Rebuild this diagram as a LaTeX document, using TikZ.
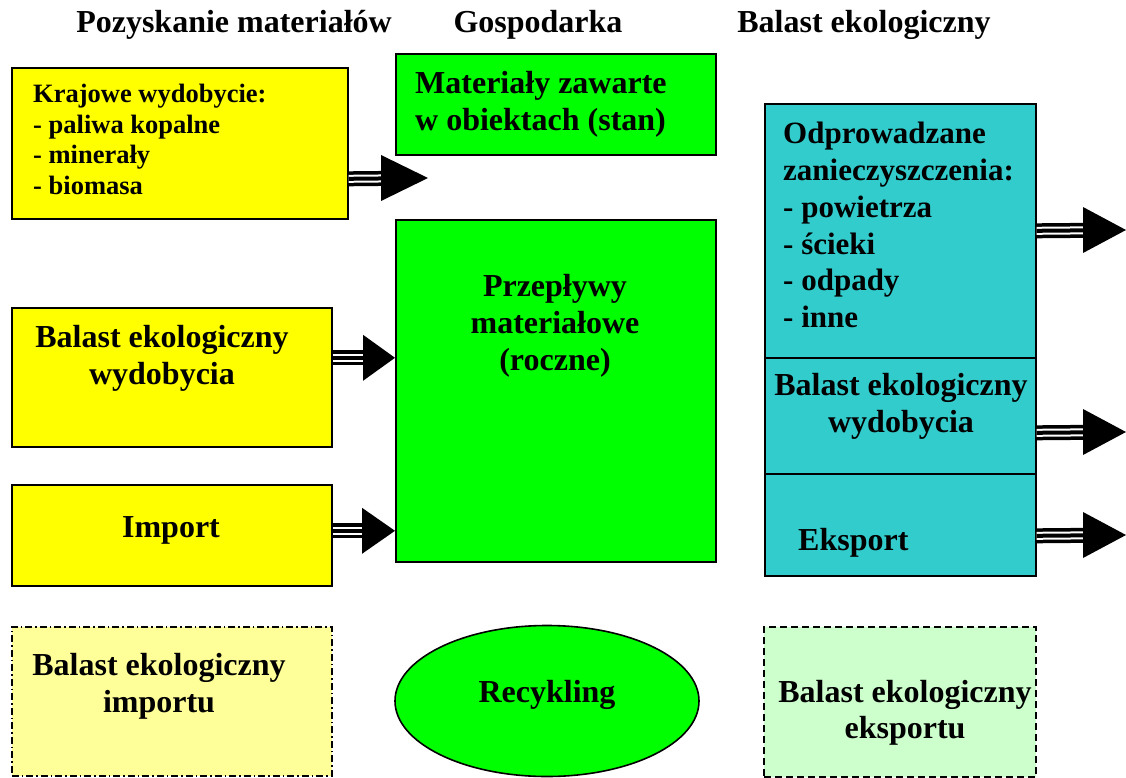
\documentclass[tikz,border=0pt]{standalone}
\usepackage{fontspec}
\setmainfont{Liberation Serif}
\usepackage{tikz}
\usetikzlibrary{shapes.geometric}
\definecolor{gelb}{HTML}{FFFF00}
\definecolor{gruen}{HTML}{00FF00}
\definecolor{tuerkis}{HTML}{33CCCC}
\definecolor{hellgelb}{HTML}{FFFF99}
\definecolor{hellgruen}{HTML}{CCFFCC}
\newcommand{\flow}[3][43]{%
  \foreach \w/\c in {15/black,8/white,4/black}
    \draw[draw=\c,line width=\w pt,shorten >=#1pt] (#2) -- (#3);
  \fill (#3) -- ++(-#1,23) -- ++(0,-46) -- cycle;}

\begin{document}
\begin{tikzpicture}[x=1pt,y=-1pt,
  box/.style={draw,line width=1.6pt,anchor=north west,inner sep=0pt},
  txt/.style={font=\fontsize{32}{37}\selectfont\bfseries,inner sep=0pt}]
  \useasboundingbox (0,0) rectangle (1126,778);
  \node[txt,anchor=base] (h-poz) at (234,33) {Pozyskanie materiałów};
  \node[txt,anchor=base] (h-gosp) at (538,33) {Gospodarka};
  \node[txt,anchor=base] (h-bal) at (864,33) {Balast ekologiczny};
  \node[box,fill=gelb,minimum width=336pt,minimum height=151pt] (kraj) at (11,67) {};
  \node[txt,font=\fontsize{26.5}{30.5}\selectfont\bfseries,anchor=north west,align=left] (kraj-t) at (33,84)
    {Krajowe wydobycie:\\- paliwa kopalne\\- minerały\\- biomasa};
  \node[box,fill=gelb,minimum width=320pt,minimum height=139pt] (bwyd) at (11,307) {};
  \node[txt,anchor=north,align=center] (bwyd-t) at (162,325) {Balast ekologiczny\\wydobycia};
  \node[box,fill=gelb,minimum width=320pt,minimum height=101pt] (imp) at (11,484) {};
  \node[txt,anchor=base] (imp-t) at (171,537) {Import};
  \node[box,fill=hellgelb,dash pattern=on 7pt off 3pt on 1.5pt off 3pt,minimum width=320pt,minimum height=149pt] (bimp) at (11,626) {};
  \node[txt,anchor=north,align=center] (bimp-t) at (159,653) {Balast ekologiczny\\importu};
  \node[box,fill=gruen,minimum width=320pt,minimum height=101pt] (mat) at (395,53) {};
  \node[txt,anchor=north west,align=left] (mat-t) at (415,71) {Materiały zawarte\\w obiektach (stan)};
  \node[box,fill=gruen,minimum width=320pt,minimum height=342pt] (przep) at (395,219) {};
  \node[txt,anchor=north,align=center] (przep-t) at (555,274) {Przepływy\\materiałowe\\(roczne)};
  \node[txt,draw,line width=1.6pt,fill=gruen,ellipse,text height=22pt,text depth=20pt,
    minimum width=304pt,minimum height=151pt] (recyk) at (547,701) {Recykling};
  \node[box,fill=tuerkis,minimum width=271pt,minimum height=254pt] (odp) at (764,103) {};
  \node[txt,font=\fontsize{31}{36.8}\selectfont\bfseries,anchor=north west,align=left] (odp-t) at (783,122)
    {Odprowadzane\\zanieczyszczenia:\\- powietrza\\- ścieki\\- odpady\\- inne};
  \node[box,fill=tuerkis,minimum width=271pt,minimum height=116pt] (rwyd) at (764,357) {};
  \node[txt,anchor=north,align=center] (rwyd-t) at (901,373) {Balast ekologiczny\\wydobycia};
  \node[box,fill=tuerkis,minimum width=271pt,minimum height=102pt] (eks) at (764,473) {};
  \node[txt,anchor=base west] (eks-t) at (798,550) {Eksport};
  \node[box,fill=hellgruen,dash pattern=on 7pt off 4pt,minimum width=272pt,minimum height=150pt] (beks) at (763,626) {};
  \node[txt,anchor=north,align=center,font=\fontsize{32}{36}\selectfont\bfseries] (beks-t) at (905,680) {Balast ekologiczny\\eksportu};
  \coordinate (kraj-tip) at (428,178);
  \coordinate (bwyd-out) at ([yshift=19.5pt]bwyd.east);
  \coordinate (imp-out) at ([yshift=4.5pt]imp.east);
  \coordinate (odp-tip) at (1126,230);
  \coordinate (rwyd-tip) at (1126,432);
  \coordinate (eks-tip) at (1126,535);
  \flow[47]{[yshift=-35.5pt]kraj.east}{kraj-tip}
  \flow[32]{bwyd-out}{przep.west |- bwyd-out}
  \flow[33]{imp-out}{przep.west |- imp-out}
  \flow{odp.east}{odp-tip}
  \flow{[yshift=-17pt]rwyd.east}{rwyd-tip}
  \flow{[yshift=-11pt]eks.east}{eks-tip}
\end{tikzpicture}
\end{document}
